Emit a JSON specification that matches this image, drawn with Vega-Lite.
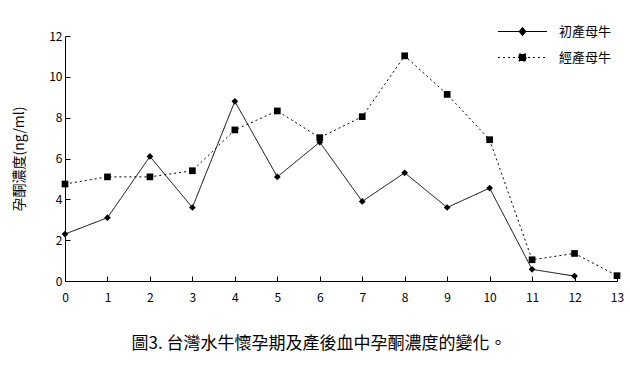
{
  "$schema": "https://vega.github.io/schema/vega-lite/v6.json",
  "autosize": "none",
  "width": 552,
  "height": 245,
  "padding": {"left": 65, "top": 36, "right": 13, "bottom": 85},
  "background": "white",
  "config": {
    "view": {"stroke": null},
    "font": "Noto Sans CJK TC",
    "axis": {"grid": false, "domainColor": "black", "tickColor": "black", "labelColor": "black", "titleColor": "black", "labelFont": "Noto Sans CJK TC", "titleFont": "Noto Sans CJK TC", "labelFontSize": 12, "titleFontWeight": "normal", "domainWidth": 1, "tickWidth": 1}
  },
  "title": {"text": "圖3. 台灣水牛懷孕期及產後血中孕酮濃度的變化。", "orient": "bottom", "fontSize": 17, "fontWeight": "normal", "font": "Noto Sans CJK TC", "color": "black", "offset": 33, "anchor": "middle", "dx": -22},
  "data": {"values": [
    {"t": 0, "group": "初產母牛", "v": 2.3},
    {"t": 1, "group": "初產母牛", "v": 3.1},
    {"t": 2, "group": "初產母牛", "v": 6.1},
    {"t": 3, "group": "初產母牛", "v": 3.6},
    {"t": 4, "group": "初產母牛", "v": 8.8},
    {"t": 5, "group": "初產母牛", "v": 5.1},
    {"t": 6, "group": "初產母牛", "v": 6.8},
    {"t": 7, "group": "初產母牛", "v": 3.9},
    {"t": 8, "group": "初產母牛", "v": 5.3},
    {"t": 9, "group": "初產母牛", "v": 3.6},
    {"t": 10, "group": "初產母牛", "v": 4.55},
    {"t": 11, "group": "初產母牛", "v": 0.57},
    {"t": 12, "group": "初產母牛", "v": 0.24},
    {"t": 0, "group": "經產母牛", "v": 4.75},
    {"t": 1, "group": "經產母牛", "v": 5.1},
    {"t": 2, "group": "經產母牛", "v": 5.1},
    {"t": 3, "group": "經產母牛", "v": 5.4},
    {"t": 4, "group": "經產母牛", "v": 7.4},
    {"t": 5, "group": "經產母牛", "v": 8.33},
    {"t": 6, "group": "經產母牛", "v": 7.02},
    {"t": 7, "group": "經產母牛", "v": 8.05},
    {"t": 8, "group": "經產母牛", "v": 11.03},
    {"t": 9, "group": "經產母牛", "v": 9.14},
    {"t": 10, "group": "經產母牛", "v": 6.92},
    {"t": 11, "group": "經產母牛", "v": 1.04},
    {"t": 12, "group": "經產母牛", "v": 1.35},
    {"t": 13, "group": "經產母牛", "v": 0.26}
  ]},
  "encoding": {
    "x": {"field": "t", "type": "quantitative", "scale": {"domain": [0, 13], "nice": false, "zero": false},
      "axis": {"title": null, "values": [0,1,2,3,4,5,6,7,8,9,10,11,12,13], "tickSize": -5, "labelPadding": 16, "labelFlush": false, "labelAngle": 0}},
    "y": {"field": "v", "type": "quantitative", "scale": {"domain": [0, 12], "nice": false},
      "axis": {"title": "孕酮濃度(ng/ml)", "titleFontSize": 14, "values": [0,2,4,6,8,10,12], "tickSize": -5, "labelPadding": 8, "titlePadding": 22}}
  },
  "layer": [
    {
      "mark": {"type": "line", "color": "black", "strokeWidth": 1},
      "encoding": {
        "strokeDash": {"field": "group", "type": "nominal", "scale": {"domain": ["初產母牛", "經產母牛"], "range": [[1, 0], [2, 3]]},
          "legend": {
            "title": null, "orient": "none", "legendX": 451, "legendY": -11,
            "symbolSize": 49, "symbolType": "M-7,0L7,0M-1,-1L1,-1L1,1L-1,1Z", "labelOffset": 30, "labelFontSize": 13, "labelColor": "black", "rowPadding": 12, "labelFont": "Noto Sans CJK TC",
            "symbolStrokeColor": "black", "symbolFillColor": "black", "symbolStrokeWidth": 1, "symbolOpacity": 1,
            "encode": {"symbols": {"update": {
              "shape": {"signal": "datum.value === '初產母牛' ? 'M-7,0L7,0M0,-1.2L1,0L0,1.2L-1,0Z' : 'M-7,0L7,0M-1,-1L1,-1L1,1L-1,1Z'"},
              "stroke": {"value": "black"},
              "strokeWidth": {"value": 1},
              "fill": {"value": "black"}
            }}}
          }}
      }
    },
    {
      "transform": [{"filter": "datum.group === '初產母牛'"}],
      "mark": {"type": "point", "shape": "diamond", "filled": true, "color": "black", "opacity": 1, "size": 45}
    },
    {
      "transform": [{"filter": "datum.group === '經產母牛'"}],
      "mark": {"type": "point", "shape": "square", "filled": true, "color": "black", "opacity": 1, "size": 45}
    }
  ]
}
